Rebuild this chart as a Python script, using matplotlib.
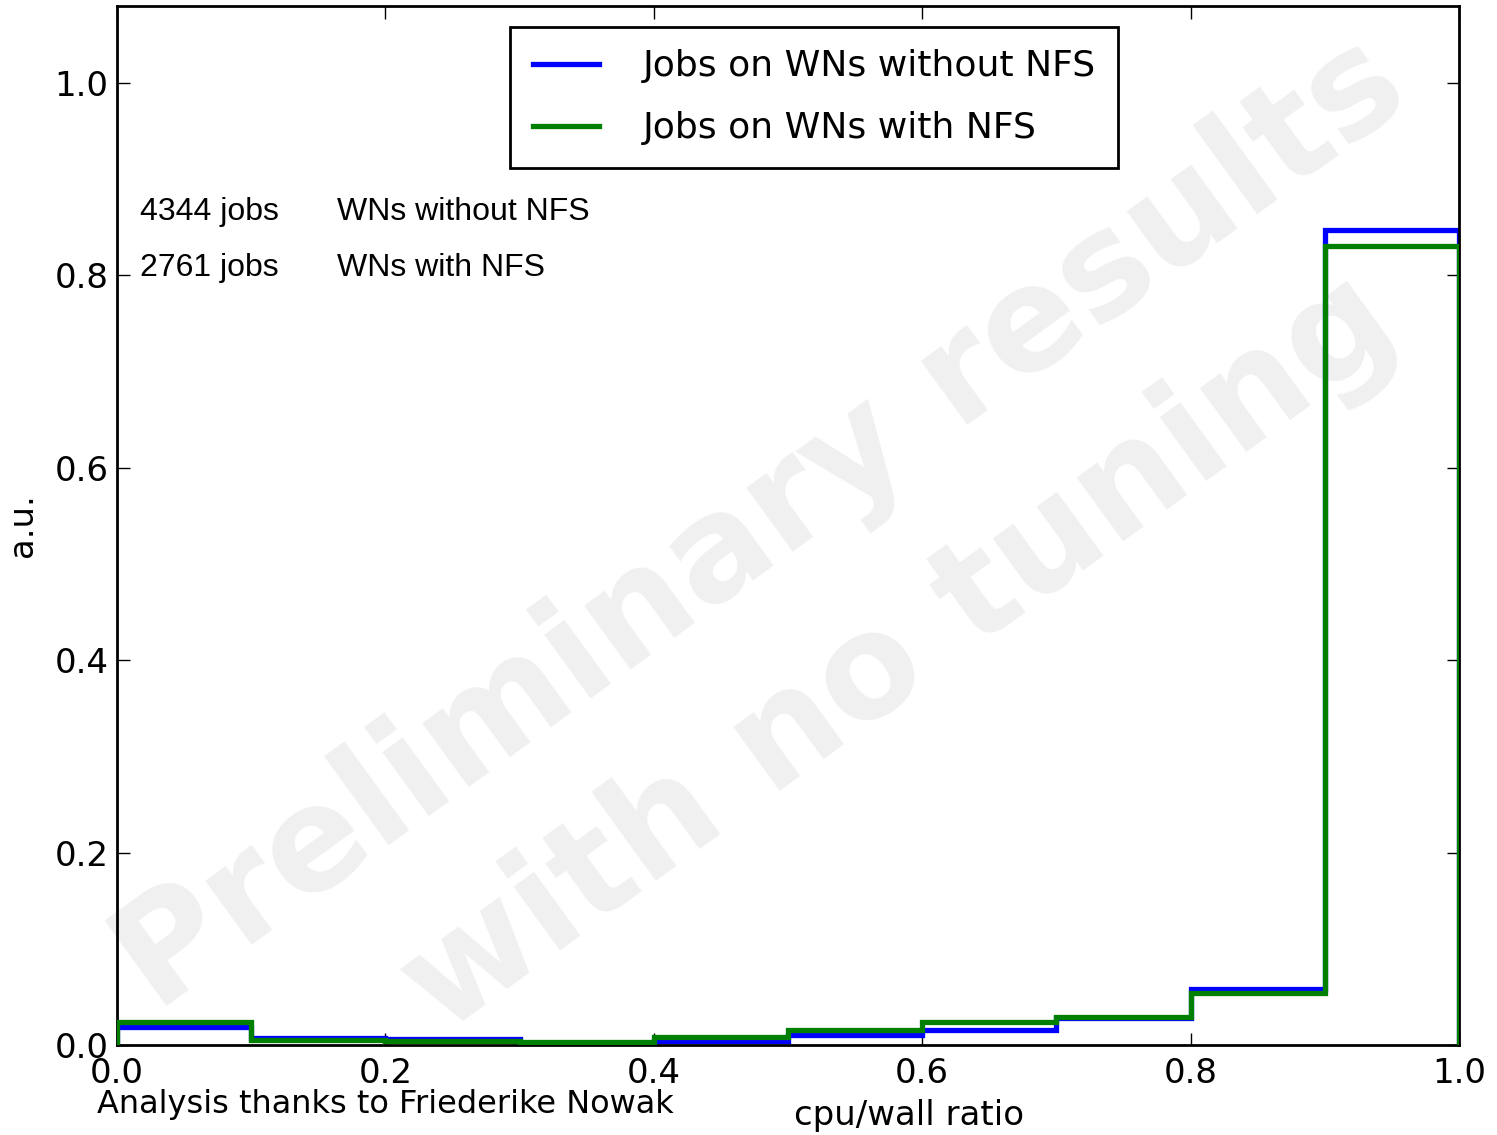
import matplotlib

matplotlib.use("Agg")
import matplotlib.pyplot as plt

# histogram of cpu/wall ratio, normalised per group
edges = [0.0, 0.1, 0.2, 0.3, 0.4, 0.5, 0.6, 0.7, 0.8, 0.9, 1.0]
no_nfs = [0.019, 0.007, 0.006, 0.002, 0.004, 0.010, 0.016, 0.028, 0.058, 0.847]
with_nfs = [0.024, 0.005, 0.004, 0.003, 0.008, 0.016, 0.024, 0.029, 0.054, 0.831]
n_jobs = [4344, 2761]
groups = ["WNs without NFS", "WNs with NFS"]
xticks = [0.0, 0.2, 0.4, 0.6, 0.8, 1.0]
yticks = [0.0, 0.2, 0.4, 0.6, 0.8, 1.0]

fig = plt.figure(figsize=(14.97, 11.35), dpi=100)
ax = fig.add_axes([0.0782, 0.0793, 0.8964, 0.9154])
ax.set_zorder(1)
ax.patch.set_alpha(0)

# watermark, behind the axes
wm = dict(fontsize=104, fontweight="bold", color="#f0f0f0", rotation=36,
          ha="center", va="center", rotation_mode="anchor", zorder=0,
          transform=fig.transFigure)
fig.text(762 / 1497, 1 - 525 / 1135, "Preliminary results", **wm)
fig.text(900 / 1497, 1 - 655 / 1135, "with no tuning", **wm)

ax.stairs(no_nfs, edges, color="b", linewidth=3.8, label="Jobs on WNs without NFS", zorder=2)
ax.stairs(with_nfs, edges, color="g", linewidth=3.8, label="Jobs on WNs with NFS", zorder=3)

ax.set_xlim(0, 1)
ax.set_ylim(0, 1.08)
ax.set_xticks(xticks)
ax.set_yticks(yticks)
ax.set_xticklabels([f"{t:.1f}" for t in xticks])
ax.set_yticklabels([f"{t:.1f}" for t in yticks])
ax.tick_params(direction="in", length=9, width=1, top=True, right=True, labelsize=24.5)
ax.tick_params(axis="x", pad=9)
ax.tick_params(axis="y", pad=6)
for s in ax.spines.values():
    s.set_linewidth(2)

ax.set_xlabel("cpu/wall ratio", fontsize=24.5)
ax.xaxis.set_label_coords(0.59, -0.052)
ax.set_ylabel("a.u.", fontsize=24.5)
ax.yaxis.set_label_coords(-0.058, 0.5)

leg = ax.legend(loc="upper left", bbox_to_anchor=(0.293, 0.980), borderaxespad=0,
                fontsize=26, handlelength=1.85, handletextpad=1.2, borderpad=0.62,
                labelspacing=0.78, fancybox=False, framealpha=1)
leg.get_frame().set_edgecolor("black")
leg.get_frame().set_linewidth(2)

for i, (n, g) in enumerate(zip(n_jobs, groups)):
    y = 1 - (212 + 56 * i) / 1135
    fig.text(140 / 1497, y, f"{n} jobs", fontsize=23, family="Liberation Sans", va="center")
    fig.text(337 / 1497, y, g, fontsize=23, family="Liberation Sans", va="center")

fig.text(97 / 1497, 1 - 1104 / 1135, "Analysis thanks to Friederike Nowak", fontsize=23, va="center")

fig.savefig("out.png", dpi=100)
